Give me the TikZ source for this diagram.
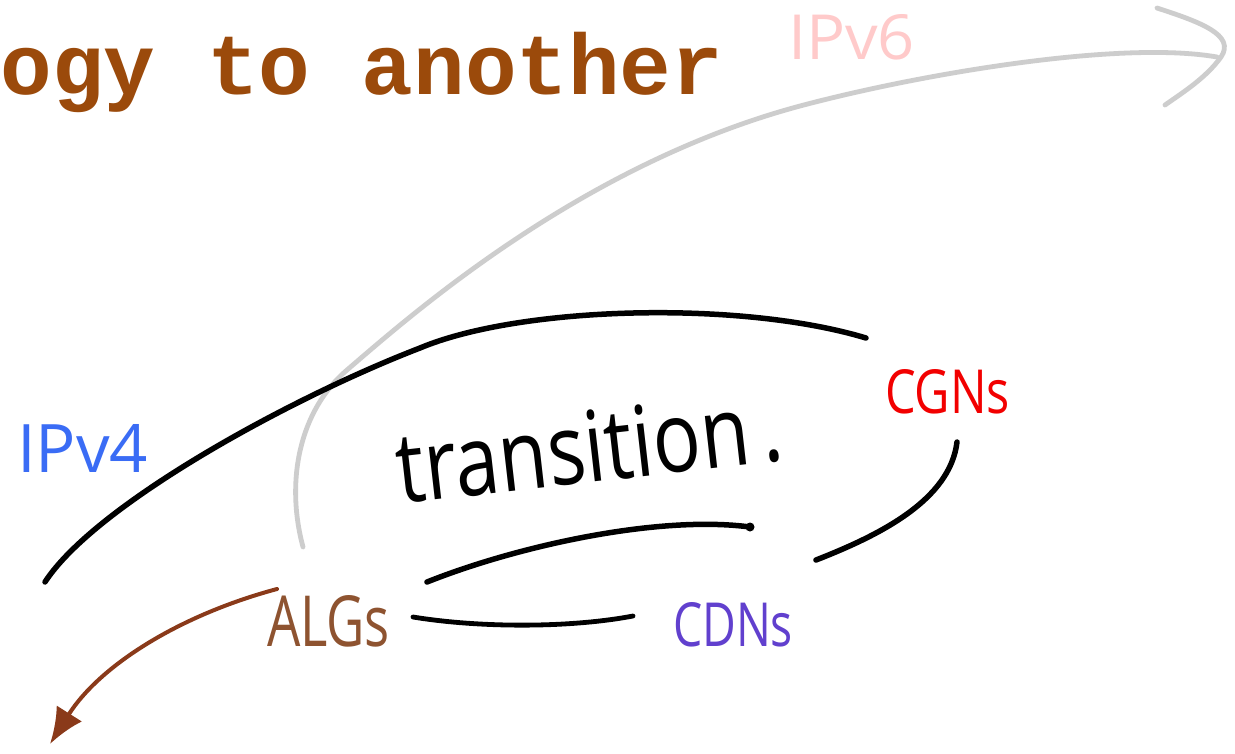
\documentclass[tikz,border=0pt]{standalone}
\usepackage{fontspec}
\usepackage{graphicx}
\setmainfont{Open Sans}
\newfontfamily\titlefont{Liberation Mono}
\usetikzlibrary{arrows.meta}
\definecolor{titlebrown}{HTML}{9B4A0B}
\definecolor{ipvfour}{HTML}{3A6CF5}
\definecolor{ipvsix}{HTML}{FFCACA}
\definecolor{cgnred}{HTML}{F20000}
\definecolor{cdnpurple}{HTML}{6140CE}
\definecolor{algbrown}{HTML}{8E5330}
\definecolor{arrowbrown}{HTML}{8A3A1A}
\definecolor{sketchgray}{HTML}{CDCDCD}
\tikzset{
  label/.style={inner sep=0pt, outer sep=0pt, anchor=south west},
  inkline/.style={line width=5.5pt, line cap=round, line join=round, black},
  grayline/.style={line width=4.8pt, line cap=round, line join=round, sketchgray},
  brownline/.style={line width=4pt, line cap=round, arrowbrown},
}
\begin{document}
\begin{tikzpicture}[x=1pt, y=-1pt]
\useasboundingbox (0,0) rectangle (1235,753);
\clip (0,0) rectangle (1235,753);
\fill[white] (0,0) rectangle (1235,753);

% title (cut at the left edge)
\node[inner sep=0pt, anchor=base west, text=titlebrown,
      font=\titlefont\bfseries\fontsize{86}{86}\selectfont] (title)
  at (-51,94) {logy to another};

% gray IPv6 arrow
\coordinate (g0) at (303,547);
\coordinate (g1) at (347,370);
\coordinate (g2) at (800,106);
\coordinate (g3) at (1217,57);
\draw[grayline] (g0) .. controls (285,480) and (300,410) .. (g1)
  .. controls (410,316) and (580,165) .. (g2)
  .. controls (920,74) and (1120,40) .. (g3);
\coordinate (c0) at (1157,8);
\coordinate (c1) at (1221,57);
\coordinate (c2) at (1165,105);
\draw[grayline] (c0) .. controls (1200,22) and (1236,35) .. (c1)
  .. controls (1206,78) and (1182,93) .. (c2);

% black big arc
\coordinate (b0) at (45,582);
\coordinate (b1) at (420,348);
\coordinate (b2) at (866,338);
\draw[inkline] (b0) .. controls (95,505) and (290,398) .. (b1)
  .. controls (520,306) and (740,300) .. (b2);
% right arc
\coordinate (r0) at (957,442);
\coordinate (r1) at (816,560);
\draw[inkline] (r0) .. controls (950,500) and (880,535) .. (r1);
% inner underline
\coordinate (u0) at (427,582);
\coordinate (u1) at (750,527);
\draw[inkline] (u0) .. controls (520,545) and (660,515) .. (u1);
\fill (u1) circle (4.5pt);
% bottom line
\coordinate (l0) at (413,617);
\coordinate (l1) at (633,616);
\draw[inkline, line width=4.8pt] (l0) .. controls (480,628) and (570,628) .. (l1);

% brown arrow from ALGs
\coordinate (abeg) at (277,589);
\coordinate (aend) at (50,744);
\draw[brownline, -{Latex[length=36pt, width=30pt]}] (abeg)
  .. controls (180,615) and (100,665) .. (aend);

% labels
\node[label, text=ipvfour] (ipv4) at (17,472) {\resizebox{131pt}{48pt}{IPv4}};
\node[label, text=ipvsix] (ipv6) at (788,60) {\resizebox{127pt}{45pt}{IPv6}};
\node[label, text=cgnred] (cgns) at (885,414) {\resizebox{125pt}{44pt}{CGNs}};
\node[label, text=cdnpurple] (cdns) at (673,647) {\resizebox{120pt}{44pt}{CDNs}};
\node[label, text=algbrown] (algs) at (267,647) {\resizebox{123pt}{51pt}{ALGs}};
\node[inner sep=0pt, anchor=base, rotate=6.5] (trans) at (593,482)
  {\resizebox{388pt}{72pt}{transition\hspace{0.15em}.}};
\end{tikzpicture}
\end{document}
